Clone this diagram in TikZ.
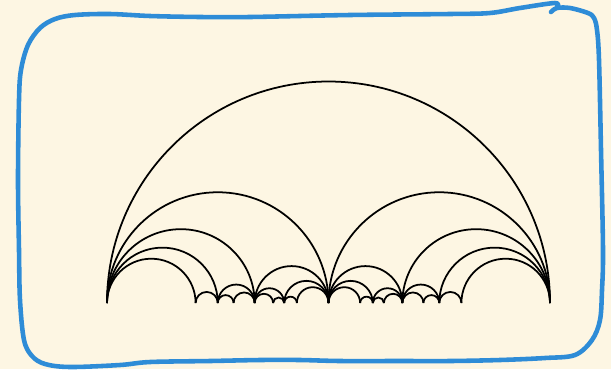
\documentclass[tikz,border=0pt]{standalone}
\usepackage{tikz}
\usetikzlibrary{calc}
\definecolor{paper}{HTML}{FDF6E3}
\definecolor{penblue}{HTML}{2E8CD7}

\begin{document}
\begin{tikzpicture}[
    x=0.02cm, y=-0.02cm,
    geodesic/.style={black, line width=1pt},
    frame/.style={penblue, line width=2.6pt, line cap=round, line join=round}
]
\fill[paper] (0,0) rectangle (611,369);
\useasboundingbox (0,0) rectangle (611,369);
% Stern--Brocot arcs p/q -- r/s over the segment [0,1]
\foreach \p/\q/\r/\s in {0/1/1/1,
    0/1/1/2, 1/2/1/1,
    0/1/1/3, 1/3/1/2, 1/2/2/3, 2/3/1/1,
    0/1/1/4, 1/4/1/3, 1/3/2/5, 2/5/1/2, 1/2/3/5, 3/5/2/3, 2/3/3/4, 3/4/1/1,
    0/1/1/5, 1/5/1/4, 1/4/2/7, 2/7/1/3, 1/3/3/8, 3/8/2/5, 2/5/3/7, 3/7/1/2,
    1/2/4/7, 4/7/3/5, 3/5/5/8, 5/8/2/3, 2/3/5/7, 5/7/3/4, 3/4/4/5, 4/5/1/1}{
    \pgfmathsetmacro\xa{107+443*\p/\q}
    \pgfmathsetmacro\rr{221.5*(\r/\s-\p/\q)}
    \draw[geodesic] (\xa,303) arc[start angle=180, end angle=0, radius=\rr*0.02cm];
}
% hand-drawn frame
\draw[frame] plot[smooth, tension=0.55] coordinates {
    (557,7) (555,3) (520,8) (490,13) (450,14) (350,15) (250,17) (200,17)
    (150,16) (110,14) (75,15) (55,19) (40,28) (28,45) (21,70) (19,100)
    (18,180) (19,250) (20,300) (24,340) (32,356) (45,364) (70,367) (120,365)
    (150,362) (210,361) (260,360) (300,360) (340,361) (400,361) (450,361)
    (500,360) (545,358) (575,355) (592,340) (600,320) (602,290) (603,250)
    (601,150) (599,60) (597,30) (594,18) (588,13) (570,8) (557,8) (551,12)};
\end{tikzpicture}
\end{document}
